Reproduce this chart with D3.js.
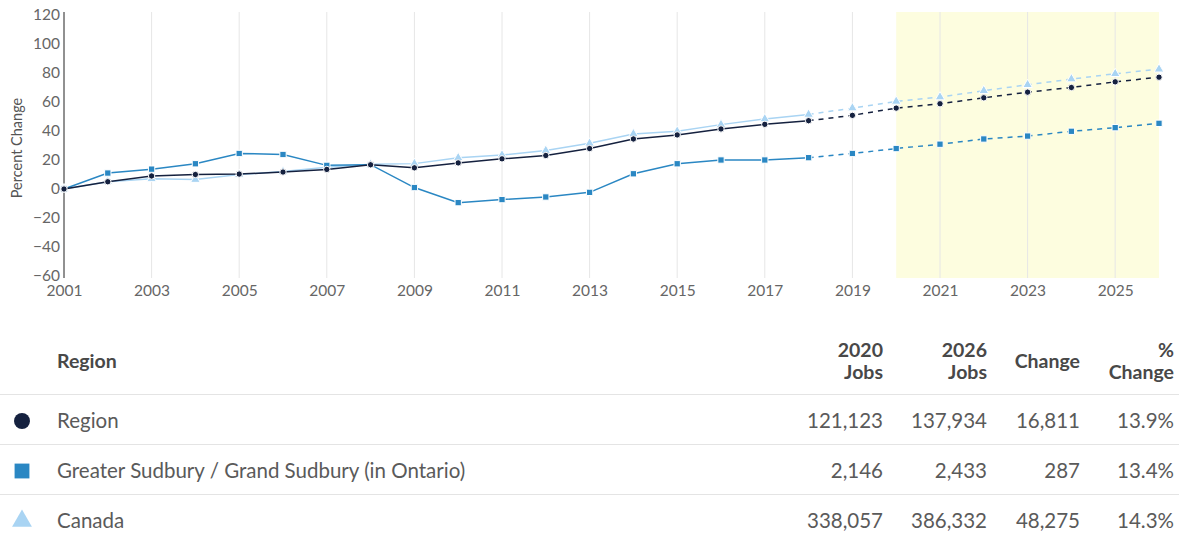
<!DOCTYPE html>
<html lang="en">
<head>
	<meta charset="utf-8">
	<title>Percent Change</title>
	<script src="https://d3js.org/d3.v7.min.js"></script>
	<style>
		body { margin: 0; background: #fff; font-family: Lato, "Open Sans", sans-serif; }
		.tick text { font-family: Lato, sans-serif; }
	</style>
</head>
<body>
<div id="chart"></div>
<script>

	// years and series values (percent change since 2001)
	var years = d3.range(2001, 2027);
	var regionVals = [0, 5, 9, 10, 10.3, 11.7, 13.5, 16.7, 14.6, 18, 20.8, 23.1, 27.9, 34.5, 37.3, 41.4, 44.6, 47.1, 50.8, 55.8, 58.8, 62.9, 66.8, 70, 73.9, 77.1];
	var sudburyVals = [0, 11, 13.7, 17.4, 24.5, 23.8, 16.3, 16.8, 1, -9.4, -7.3, -5.5, -2.3, 10.5, 17.4, 20, 20, 21.6, 24.5, 27.9, 30.9, 34.5, 36.5, 39.8, 42.3, 45.3];
	var canadaVals = [0, 5, 7, 6.5, 10, 12, 15, 17, 17.5, 21.5, 23.4, 26.5, 31.5, 38, 39.8, 44.4, 48.3, 51.4, 55.8, 60.4, 63.4, 67.8, 71.9, 75.8, 79.5, 82.6];
	var lastActual = 2018;
	var forecastStart = 2020;
	var yTicks = [-60, -40, -20, 0, 20, 40, 60, 80, 100, 120];
	var xTicks = [2001, 2003, 2005, 2007, 2009, 2011, 2013, 2015, 2017, 2019, 2021, 2023, 2025];

	// table data
	var tableHeaders = [["2020", "Jobs"], ["2026", "Jobs"], ["Change"], ["%", "Change"]];
	var tableNames = ["Region", "Greater Sudbury / Grand Sudbury (in Ontario)", "Canada"];
	var jobs2020 = ["121,123", "2,146", "338,057"];
	var jobs2026 = ["137,934", "2,433", "386,332"];
	var jobsChange = ["16,811", "287", "48,275"];
	var pctChange = ["13.9%", "13.4%", "14.3%"];

	var colors = { region: "#15213f", sudbury: "#2a87c3", canada: "#a9d4f3" };

	var W = 1179, H = 541;
	var svg = d3.select("#chart").append("svg")
		.attr("width", W)
		.attr("height", H);

	var x = d3.scaleLinear().domain([2001, 2026]).range([64, 1159]);
	var y = d3.scaleLinear().domain([-60, 120]).range([276, 15]);

	// forecast highlight
	svg.append("rect")
		.attr("x", x(forecastStart))
		.attr("y", 12)
		.attr("width", x(2026) - x(forecastStart))
		.attr("height", 278 - 12)
		.attr("fill", "#fdfddf");

	// vertical gridlines
	svg.append("g")
		.selectAll("line")
		.data(xTicks.slice(1))
		.join("line")
		.attr("x1", d => x(d)).attr("x2", d => x(d))
		.attr("y1", 12).attr("y2", 278)
		.attr("stroke", "#e6e6e6")
		.attr("stroke-width", 1);

	// y axis
	var yAxis = svg.append("g")
		.attr("transform", "translate(" + x(2001) + ",0)")
		.call(d3.axisLeft(y).tickValues(yTicks).tickSize(0).tickPadding(4));
	yAxis.select(".domain").attr("stroke", "#222").attr("d", "M0,12V278");
	yAxis.selectAll("text").attr("fill", "#666").style("font-size", "15.5px");

	svg.append("text")
		.attr("transform", "translate(22,148) rotate(-90)")
		.attr("text-anchor", "middle")
		.attr("fill", "#555")
		.style("font-size", "14.5px")
		.text("Percent Change");

	// x axis labels
	var xAxis = svg.append("g")
		.attr("transform", "translate(0,279)")
		.call(d3.axisBottom(x).tickValues(xTicks).tickFormat(d3.format("d")).tickSize(0).tickPadding(6));
	xAxis.select(".domain").remove();
	xAxis.selectAll("text").attr("fill", "#666").style("font-size", "15.5px");

	var series = [
		{ key: "canada", vals: canadaVals, shape: "triangle" },
		{ key: "sudbury", vals: sudburyVals, shape: "square" },
		{ key: "region", vals: regionVals, shape: "circle" }
	];

	var line = d3.line().x(d => x(d.year)).y(d => y(d.v));

	series.forEach(function (s) {
		var pts = years.map((yr, i) => ({ year: yr, v: s.vals[i] }));
		var col = colors[s.key];
		svg.append("path")
			.datum(pts.filter(d => d.year <= lastActual))
			.attr("d", line)
			.attr("fill", "none")
			.attr("stroke", col)
			.attr("stroke-width", 1.5);
		svg.append("path")
			.datum(pts.filter(d => d.year >= lastActual))
			.attr("d", line)
			.attr("fill", "none")
			.attr("stroke", col)
			.attr("stroke-width", 1.5)
			.attr("stroke-dasharray", "5,5");

		var sym = s.shape == "circle" ? d3.symbolCircle : (s.shape == "square" ? d3.symbolSquare : d3.symbolTriangle);
		var size = s.shape == "circle" ? 32 : 40;
		svg.append("g")
			.selectAll("path")
			.data(pts)
			.join("path")
			.attr("transform", d => "translate(" + x(d.year) + "," + y(d.v) + ")")
			.attr("d", d3.symbol().type(sym).size(size))
			.attr("fill", col)
			.attr("stroke", "#fff")
			.attr("stroke-width", 1);
	});

	// ---- table ----
	var rightEdges = [883, 987, 1080, 1174];
	var headColor = "#484848", cellColor = "#5a5a5a";
	var headFont = "19.5px", cellFont = "20.5px";

	svg.append("text")
		.attr("x", 57).attr("y", 368)
		.attr("fill", headColor)
		.style("font-size", headFont).style("font-weight", "bold")
		.text("Region");

	tableHeaders.forEach(function (h, i) {
		var t = svg.append("text")
			.attr("text-anchor", "end")
			.attr("fill", headColor)
			.style("font-size", headFont).style("font-weight", "bold");
		if (h.length == 2) {
			t.append("tspan").attr("x", rightEdges[i]).attr("y", 357).text(h[0]);
			t.append("tspan").attr("x", rightEdges[i]).attr("y", 379).text(h[1]);
		} else {
			t.attr("x", rightEdges[i]).attr("y", 368).text(h[0]);
		}
	});

	var rowY = d3.scaleBand().domain(d3.range(3)).range([395, 545]);

	svg.append("g")
		.selectAll("line")
		.data(d3.range(3))
		.join("line")
		.attr("x1", 0).attr("x2", W)
		.attr("y1", d => rowY(d) - 0.5).attr("y2", d => rowY(d) - 0.5)
		.attr("stroke", "#e4e4e4");

	var markerTypes = [d3.symbolCircle, d3.symbolSquare, d3.symbolTriangle];
	var markerSizes = [200, 220, 170];
	var markerCols = [colors.region, colors.sudbury, colors.canada];

	tableNames.forEach(function (name, i) {
		var cy = rowY(i) + rowY.bandwidth() / 2;
		svg.append("path")
			.attr("transform", "translate(22," + (cy + 1) + ")")
			.attr("d", d3.symbol().type(markerTypes[i]).size(markerSizes[i]))
			.attr("fill", markerCols[i]);
		svg.append("text")
			.attr("x", 57).attr("y", cy + 8)
			.attr("fill", cellColor)
			.style("font-size", cellFont)
			.text(name);
		[jobs2020[i], jobs2026[i], jobsChange[i], pctChange[i]].forEach(function (v, j) {
			svg.append("text")
				.attr("x", rightEdges[j]).attr("y", cy + 8)
				.attr("text-anchor", "end")
				.attr("fill", cellColor)
				.style("font-size", cellFont)
				.text(v);
		});
	});

</script>
</body>
</html>
